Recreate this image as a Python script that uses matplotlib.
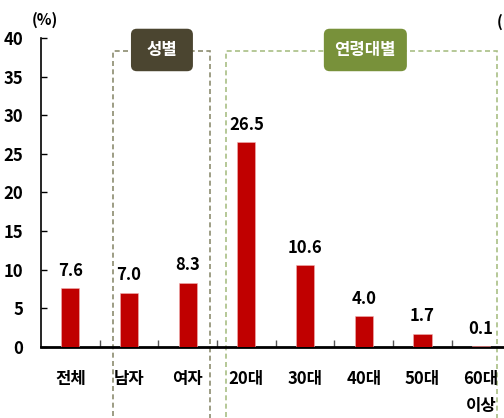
import matplotlib
matplotlib.use("Agg")
import matplotlib.pyplot as plt
from matplotlib.patches import Rectangle, FancyBboxPatch

plt.rcParams["font.family"] = ["Noto Sans CJK KR", "DejaVu Sans"]
plt.rcParams["font.weight"] = "bold"

categories = ["전체", "남자", "여자", "20대", "30대", "40대", "50대", "60대\n이상"]
values = [7.6, 7.0, 8.3, 26.5, 10.6, 4.0, 1.7, 0.1]
value_labels = ["7.6", "7.0", "8.3", "26.5", "10.6", "4.0", "1.7", "0.1"]
yticks = [0, 5, 10, 15, 20, 25, 30, 35, 40]

BAR_COLOUR = "#c00000"
GENDER_COLOUR = "#4b4530"
AGE_COLOUR = "#78913a"

fig = plt.figure(figsize=(5.04, 4.18), dpi=100)
ax = fig.add_axes([41 / 504, 71 / 418, 463 / 504, 309 / 418])

x = list(range(len(categories)))
ax.bar(x, values, width=0.31, color=BAR_COLOUR, edgecolor="#f0b0b0", linewidth=0.4, zorder=3)
for xi, v, lab in zip(x, values, value_labels):
    ax.text(xi, v + 1.1, lab, ha="center", va="bottom", fontsize=12, fontweight="bold")

ax.set_xlim(-0.5, 7.39)
ax.set_ylim(0, 40)
ax.set_yticks(yticks)
ax.set_yticklabels([str(t) for t in yticks], fontsize=12, fontweight="bold")
ax.tick_params(axis="y", direction="in", length=4, width=1, pad=13)
ax.set_xticks([i + 0.5 for i in range(len(categories) - 1)])
ax.set_xticklabels([])
ax.tick_params(axis="x", direction="in", length=5, width=1, color="#555555")
for xi, cat in zip(x, categories):
    ax.text(xi, -3.0, cat, ha="center", va="top", fontsize=12, fontweight="bold",
            linespacing=1.6)

for side in ("top", "right"):
    ax.spines[side].set_visible(False)
ax.spines["left"].set_linewidth(1.2)
ax.spines["bottom"].set_linewidth(2)

ax.text(-0.43, 42.3, "(%)", ha="center", va="center", fontsize=11, fontweight="bold",
        clip_on=False)
fig.text(497 / 504, 1 - 22 / 418, "(", ha="left", va="center", fontsize=11, fontweight="bold")

# group frames
ax.add_patch(Rectangle((0.727, -12), 2.38 - 0.727, 38.3 + 12, fill=False, ls=(0, (3, 2)),
                       ec="#8c8c70", lw=1.2, clip_on=False, zorder=1))
ax.add_patch(Rectangle((2.65, -12), 7.27 - 2.65, 38.3 + 12, fill=False, ls=(0, (3, 2)),
                       ec="#a9bf85", lw=1.2, clip_on=False, zorder=1))

# group title badges
for (x0, x1), title, colour in [((1.033, 2.089), "성별", GENDER_COLOUR),
                                ((4.32, 5.735), "연령대별", AGE_COLOUR)]:
    ax.add_patch(FancyBboxPatch((x0, 35.7), x1 - x0, 5.5,
                                boxstyle="round,pad=0,rounding_size=0.1",
                                mutation_aspect=7.6, fc=colour, ec="none",
                                clip_on=False, zorder=5))
    ax.text((x0 + x1) / 2, 38.45, title, ha="center", va="center", color="white",
            fontsize=12, fontweight="bold", zorder=6)

fig.savefig("out.png", dpi=100)
